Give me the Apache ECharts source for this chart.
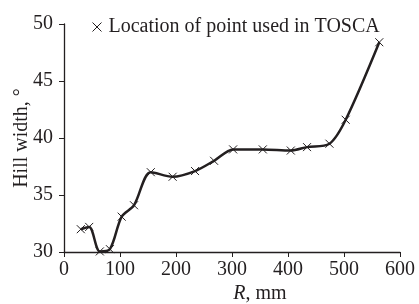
<!DOCTYPE html>
<html>
<head>
<meta charset="utf-8">
<script src="https://cdn.jsdelivr.net/npm/echarts@6/dist/echarts.min.js"></script>
<style>
  html, body { margin: 0; padding: 0; background: #fff; }
  #main { width: 419px; height: 304px; }
</style>
</head>
<body>
<div id="main"></div>
<script>
// 半径 R (mm) 与山宽 (°)
var rVals = [30, 45, 64, 82, 103, 125, 155, 194, 234, 268, 302, 355, 405, 434, 474, 503, 563];
var widthVals = [32.0, 32.2, 30.05, 30.25, 33.1, 34.1, 37.0, 36.6, 37.1, 38.0, 39.0, 39.0, 38.9, 39.2, 39.5, 41.6, 48.4];
var xTicks = [0, 100, 200, 300, 400, 500, 600];
var yTicks = [30, 35, 40, 45, 50];
var legendName = 'Location of point used in TOSCA';

var points = rVals.map(function (r, i) { return [r, widthVals[i]]; });
var crossIcon = 'path://M0,0L10,10M10,0L0,10';
var serif = '"Liberation Serif", "DejaVu Serif", serif';
var ink = '#231f20';

var myChart = echarts.init(document.getElementById('main'));
myChart.setOption({
    backgroundColor: '#fff',
    animation: false,
    legend: {
        left: 87,
        top: 12,
        itemWidth: 9,
        itemHeight: 9,
        itemGap: 4,
        icon: crossIcon,
        data: [legendName],
        itemStyle: { color: ink, borderColor: ink, borderWidth: 1 },
        textStyle: { fontFamily: serif, fontSize: 20, color: ink, padding: [0, 0, 0, 2] }
    },
    grid: { left: 64, right: 19, top: 24, bottom: 52, outerBoundsMode: 'none' },
    xAxis: {
        type: 'value',
        min: xTicks[0],
        max: xTicks[xTicks.length - 1],
        interval: 100,
        name: '{i|R}, mm',
        nameLocation: 'middle',
        nameGap: 32,
        nameMoveOverlap: false,
        nameTextStyle: {
            fontFamily: serif, fontSize: 20, color: ink, padding: [0, 0, 0, 56],
            rich: { i: { fontFamily: serif, fontSize: 20, fontStyle: 'italic', color: ink } }
        },
        axisLine: { show: true, lineStyle: { color: ink, width: 1.3 } },
        axisTick: { show: true, length: 5, lineStyle: { color: ink } },
        axisLabel: { fontFamily: serif, fontSize: 20, color: ink, margin: 8 },
        splitLine: { show: false }
    },
    yAxis: {
        type: 'value',
        min: yTicks[0],
        max: yTicks[yTicks.length - 1],
        interval: 5,
        name: 'Hill width, °',
        nameLocation: 'middle',
        nameGap: 32,
        nameMoveOverlap: false,
        nameTextStyle: { fontFamily: serif, fontSize: 20, color: ink },
        axisLine: { show: true, lineStyle: { color: ink, width: 1.3 } },
        axisTick: { show: true, length: 5, lineStyle: { color: ink } },
        axisLabel: { fontFamily: serif, fontSize: 20, color: ink, margin: 11 },
        splitLine: { show: false }
    },
    series: [{
        name: legendName,
        type: 'line',
        data: points,
        smooth: 0.3,
        symbol: crossIcon,
        symbolSize: 8,
        showAllSymbol: true,
        lineStyle: { color: ink, width: 2.5 },
        itemStyle: { color: ink, borderColor: ink, borderWidth: 1 }
    }]
});
</script>
</body>
</html>
